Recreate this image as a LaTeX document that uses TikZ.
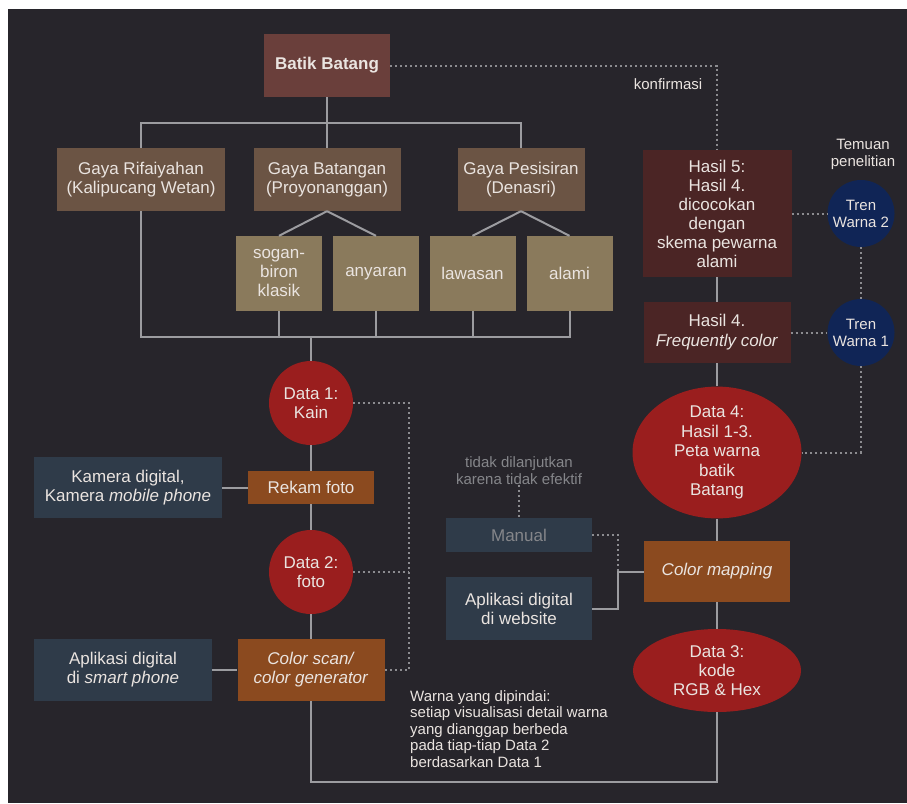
\documentclass[tikz,border=0pt]{standalone}
\usepackage{fontspec}
\setmainfont{Liberation Sans}
\usetikzlibrary{shapes.geometric}
\definecolor{bgDark}{HTML}{27252B}
\definecolor{textLight}{HTML}{EAE4E0}
\definecolor{lineGray}{HTML}{9C9CA0}
\definecolor{dotGray}{HTML}{8C8C90}
\definecolor{rootBrown}{HTML}{6A3F3B}
\definecolor{styleBrown}{HTML}{6B5444}
\definecolor{motifTan}{HTML}{8A7A5C}
\definecolor{dataRed}{HTML}{9A1E1E}
\definecolor{stepOrange}{HTML}{8B4A1F}
\definecolor{toolSlate}{HTML}{2F3B49}
\definecolor{resultBrown}{HTML}{4B2525}
\definecolor{trendNavy}{HTML}{102556}
\definecolor{mutedGray}{HTML}{85868A}
\newcommand{\fontMain}{\fontsize{17}{19}\selectfont}
\newcommand{\fontNote}{\fontsize{15}{17}\selectfont}
\newcommand{\motifBranch}[3]{%%
  %% One style box splits into two motif boxes.
  \draw[lineStyle] (#1.south) -- (#2.north);
  \draw[lineStyle] (#1.south) -- (#3.north);
}
\newcommand{\collectorDrop}[1]{%%
  \draw[lineStyle] (#1.south) -- (#1.south |- collectEnd);
}

\begin{document}
\begin{tikzpicture}[%%
  x=1pt,y=-1pt,%%
  boxStyle/.style 2 args={rectangle,inner sep=0pt,minimum width=#1pt,minimum height=#2pt,align=center,text=textLight,font=\fontMain},%%
  dataStyle/.style={circle,fill=dataRed,minimum size=84pt,inner sep=0pt,align=center,text=textLight,font=\fontMain},%%
  ellipseStyle/.style 2 args={ellipse,fill=dataRed,minimum width=#1pt,minimum height=#2pt,inner sep=0pt,align=center,text=textLight,font=\fontMain},%%
  trendStyle/.style={circle,fill=trendNavy,minimum size=67pt,inner sep=0pt,align=center,text=textLight,font=\fontsize{15}{17}\selectfont},%%
  lineStyle/.style={draw=lineGray,line width=2pt},%%
  dotStyle/.style={draw=dotGray,line width=2pt,dash pattern=on 2pt off 3pt},%%
  noteStyle/.style={text=textLight,font=\fontNote,align=center,inner sep=0pt}
]
%%
%%
\pgfmathsetmacro{\dataX}{311}
\pgfmathsetmacro{\resultX}{717}
\pgfmathsetmacro{\trendX}{861}
%% The page and its dark background.
\fill[white] (0,0) rectangle (907,803);
\fill[bgDark] (8,9) rectangle (907,803);
\useasboundingbox (0,0) rectangle (907,803);
%%
%%
%% The tree of batik styles.
\node[boxStyle={126}{63},fill=rootBrown,font=\fontMain\bfseries] (batik) at (327,65.5) {Batik Batang};
\node[boxStyle={168}{63},fill=styleBrown] (rifai) at (141,179.5) {Gaya Rifaiyahan\\(Kalipucang Wetan)};
\node[boxStyle={147}{63},fill=styleBrown] (batangan) at (327,179.5) {Gaya Batangan\\(Proyonanggan)};
\node[boxStyle={127}{63},fill=styleBrown] (pesisiran) at (521,179.5) {Gaya Pesisiran\\(Denasri)};
\node[boxStyle={86}{75},fill=motifTan] (sogan) at (279,273.5) {sogan-\\biron\\klasik};
\node[boxStyle={86}{75},fill=motifTan] (anyaran) at (376,273.5) {anyaran};
\node[boxStyle={86}{75},fill=motifTan] (lawasan) at (472.5,273.5) {lawasan};
\node[boxStyle={86}{75},fill=motifTan] (alami) at (569.5,273.5) {alami};
%% The scan column.
\node[dataStyle] (data1) at (\dataX,403) {Data 1:\\Kain};
\node[boxStyle={126}{33},fill=stepOrange] (rekam) at (\dataX,487.5) {Rekam foto};
\node[boxStyle={188}{61},fill=toolSlate] (kamera) at (128,487.5) {Kamera digital,\\Kamera \textit{mobile phone}};
\node[dataStyle] (data2) at (\dataX,572) {Data 2:\\foto};
\node[boxStyle={147}{62},fill=stepOrange] (colorScan) at (\dataX,670) {\textit{Color scan/}\\\textit{color generator}};
\node[boxStyle={178}{62},fill=toolSlate] (smartPhone) at (123,670) {Aplikasi digital\\di \textit{smart phone}};
%% The result column.
\node[ellipseStyle={168}{83}] (data3) at (\resultX,670.5) {Data 3:\\kode\\RGB \& Hex};
\node[boxStyle={146}{61},fill=stepOrange] (colorMap) at (\resultX,571.5) {\textit{Color mapping}};
\node[ellipseStyle={169}{125},font=\fontsize{17}{19.5}\selectfont] (data4) at (\resultX,452.5) {Data 4:\\Hasil 1-3.\\Peta warna\\batik\\Batang};
\node[boxStyle={147}{61},fill=resultBrown,font=\fontsize{17}{20}\selectfont] (hasil4) at (\resultX,332.5) {Hasil 4.\\\textit{Frequently color}};
\node[boxStyle={149}{127},fill=resultBrown] (hasil5) at (\resultX,213.5) {Hasil 5:\\Hasil 4.\\dicocokan\\dengan\\skema pewarna\\alami};
\node[boxStyle={146}{34},fill=toolSlate,text=mutedGray] (manual) at (519,535) {Manual};
\node[boxStyle={146}{63},fill=toolSlate] (website) at (519,608.5) {Aplikasi digital\\di website};
%% The colour trends.
\node[trendStyle] (tren2) at (\trendX,213.5) {Tren\\Warna 2};
\node[trendStyle] (tren1) at (\trendX,332.5) {Tren\\Warna 1};
%%
%%
%% Solid connectors.
\coordinate (treeTop) at (327,123);
\coordinate (collectEnd) at (569.5,337);
\coordinate (collectMid) at (\dataX,337);
\draw[lineStyle] (batik) -- (batangan);
\draw[lineStyle] (rifai.north) |- (treeTop) -| (pesisiran.north);
\motifBranch{batangan}{sogan}{anyaran}
\motifBranch{pesisiran}{lawasan}{alami}
\draw[lineStyle] (rifai.south) |- (collectEnd) -- (alami.south);
\collectorDrop{sogan}
\collectorDrop{anyaran}
\collectorDrop{lawasan}
\draw[lineStyle] (collectMid) -- (data1);
\draw[lineStyle] (data1) -- (rekam);
\draw[lineStyle] (rekam) -- (data2);
\draw[lineStyle] (data2) -- (colorScan);
\draw[lineStyle] (kamera) -- (rekam);
\draw[lineStyle] (smartPhone) -- (colorScan);
\coordinate (bottomCorner) at (\resultX,782);
\draw[lineStyle] (colorScan.south) |- (bottomCorner) -- (data3.south);
\draw[lineStyle] (data3) -- (colorMap);
\draw[lineStyle] (colorMap) -- (data4);
\draw[lineStyle] (data4) -- (hasil4);
\draw[lineStyle] (hasil4) -- (hasil5);
\coordinate (webBend) at (618,608.5);
\draw[lineStyle] (website.east) -- (webBend) |- (colorMap.west);
%% Dotted connectors and their notes.
\draw[dotStyle] (batik.east) -| (hasil5.north);
\node[noteStyle] (konfirmasi) at (668,84) {konfirmasi};
\coordinate (scanDot) at (409,403);
\draw[dotStyle] (data1.east) -- (scanDot) |- (colorScan.east);
\draw[dotStyle] (data2.east) -- (data2.east -| scanDot);
\draw[dotStyle] (hasil5.east) -- (tren2);
\draw[dotStyle] (hasil4.east) -- (tren1);
\draw[dotStyle] (tren2) -- (tren1);
\draw[dotStyle] (tren1.south) |- (data4.east);
\node[noteStyle] (temuan) at (863,154) {Temuan\\penelitian};
\node[noteStyle,text=mutedGray] (manualNote) at (519,471) {tidak dilanjutkan\\karena tidak efektif};
\draw[dotStyle] (manualNote.south) -- (manual.north);
\draw[dotStyle] (manual.east) -| (webBend |- colorMap.west);
\node[noteStyle,align=left,anchor=north west,font=\fontsize{15}{16.5}\selectfont] (scanNote) at (410,690) {Warna yang dipindai:\\setiap visualisasi detail warna\\yang dianggap berbeda\\pada tiap-tiap Data 2\\berdasarkan Data 1};
\end{tikzpicture}
\end{document}
